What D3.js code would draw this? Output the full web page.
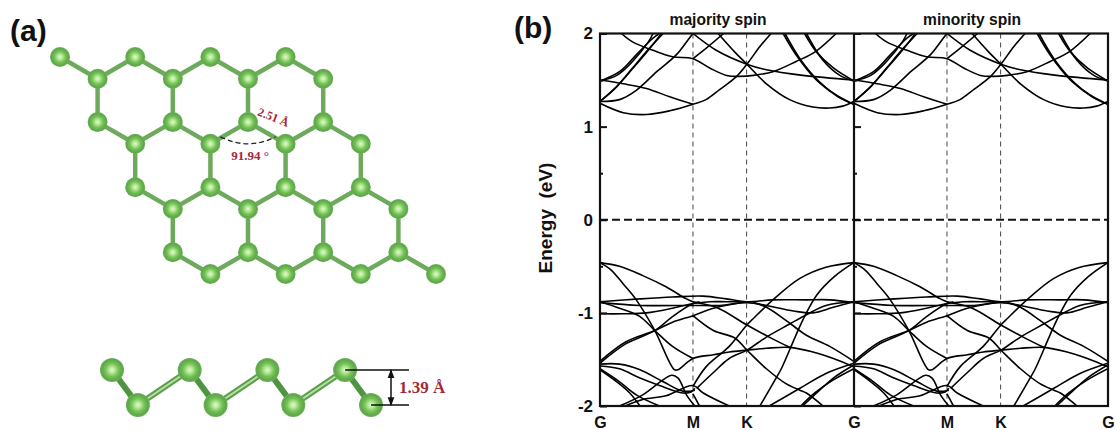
<!DOCTYPE html>
<meta charset="utf-8">
<style>
  body { margin: 0; background: #fff; }
  text { font-family: "Liberation Sans", Arial, sans-serif; font-weight: 700; fill: #111; }
  .red { font-family: "Liberation Serif", serif; fill: #a3283a; }
  .band { fill: none; stroke: #000; stroke-width: 1.6px; stroke-linejoin: round; }
  .axis line { stroke: #111; stroke-width: 2px; }
  .axis text { font-size: 16px; }
  .yaxis text { font-size: 17px; }
</style>
<body>
<script src="https://d3js.org/d3.v7.min.js"></script>
<script>
  // k path in units of the G-M distance
  var kTicks = [0, 1, 1.577, 2.732];
  var kLabels = ["G", "M", "K", "G"];
  var energyTicks = [-2, -1, 0, 1, 2];
  var energyMinor = [-1.5, -0.5, 0.5, 1.5];
  var panelTitles = ["majority spin", "minority spin"];

  // bands above the gap, [k, E]
  var conductionBands = [
    [[0,1.25],[.25,1.15],[.5,1.13],[.75,1.17],[1,1.24],[1.14,1.29],[1.29,1.4],[1.47,1.54],[1.58,1.67],[1.72,1.86],[1.84,2]],
    [[1.27,2],[1.45,1.8],[1.58,1.67],[1.79,1.46],[2.04,1.29],[2.29,1.21],[2.47,1.2],[2.61,1.22],[2.73,1.27]],
    [[1,2],[1.25,1.82],[1.58,1.67],[1.79,1.61],[2.18,1.55],[2.73,1.5]],
    [[.23,2],[.35,1.91],[.57,1.82],[.78,1.75],[1,1.73],[1.18,1.63],[1.36,1.55],[1.5,1.54],[1.65,1.55],[1.86,1.59],[2.11,1.7],[2.31,1.8],[2.54,2]],
    [[1,1.73],[1.14,1.84],[1.33,2]],
    [[0,1.5],[.25,1.46],[.5,1.41],[.75,1.32],[1,1.24]],
    [[0,1.49],[.18,1.55],[.35,1.7],[.52,1.91],[.57,2]],
    [[0,1.49],[.21,1.59],[.39,1.77],[.57,1.95],[.64,2]],
    [[0,1.27],[.18,1.43],[.35,1.63],[.53,1.84],[.68,2]],
    [[0,1.27],[.16,1.41],[.34,1.61],[.52,1.82],[.66,2]],
    [[0,1.27],[.21,1.29],[.39,1.39],[.61,1.59],[.82,1.77],[.96,1.95],[1,2]],
    [[1.97,2],[2.11,1.77],[2.33,1.5],[2.54,1.34],[2.73,1.24]],
    [[1.99,2],[2.15,1.73],[2.36,1.48],[2.56,1.32],[2.73,1.24]],
    [[2.2,2],[2.33,1.8],[2.51,1.63],[2.73,1.49]],
    [[2.22,2],[2.4,1.71],[2.58,1.55],[2.73,1.49]]
  ];

  // bands below the gap
  var valenceBands = [
    [[0,-.46],[.21,-.5],[.46,-.6],[.71,-.72],[.93,-.85],[1,-.88],[1.25,-.94],[1.58,-1.13],[1.82,-1.26],[2.04,-1.37]],
    [[0,-.46],[.12,-.54],[.25,-.69],[.39,-.86],[.59,-1.19],[.8,-1.61],[.84,-1.61],[1,-1.49],[1.22,-1.45],[1.39,-1.42],[1.58,-1.4],[1.79,-1.38],[2.04,-1.37],[2.29,-1.42],[2.51,-1.49],[2.73,-1.58]],
    [[0,-1.52],[.28,-1.31],[.59,-1.19],[.78,-1.1],[1,-1.03],[1.22,-.95],[1.58,-.88]],
    [[0,-1.54],[.28,-1.33],[.59,-1.19],[.78,-1.04],[1,-.9],[1.07,-.88]],
    [[0,-.88],[.21,-.95],[.43,-1.04],[.59,-1.19],[.78,-1.36],[1,-1.49]],
    [[0,-.88],[.43,-.85],[.78,-.83],[1.11,-.82],[1.36,-.85],[1.58,-.88],[1.86,-.86],[2.22,-.86],[2.47,-.86],[2.73,-.89]],
    [[0,-.89],[.43,-.92],[1,-.92],[1.29,-.92],[1.58,-.89],[1.79,-.92],[2.08,-.98],[2.29,-1],[2.51,-.94],[2.73,-.88]],
    [[0,-1.01],[.25,-1.01],[.5,-1],[.78,-.95],[1,-.9],[1.18,-.88],[1.36,-.88],[1.58,-.88]],
    [[1,-1.03],[1.22,-1.19],[1.45,-1.27],[1.58,-1.4],[1.79,-1.6],[2,-1.76],[2.15,-1.83],[2.22,-1.86],[2.4,-2]],
    [[1.65,-.89],[1.79,-.94],[2,-1.08],[2.22,-1.24],[2.47,-1.36],[2.73,-1.52]],
    [[1.72,-2],[1.9,-1.69],[1.95,-1.6],[2.18,-1.08],[2.33,-.81],[2.52,-.61],[2.73,-.46]],
    [[2.73,-.46],[2.43,-.51],[2.15,-.63],[1.86,-.86],[1.65,-1.06],[1.58,-1.13],[1.39,-1.36],[1.14,-1.58],[1,-1.79]],
    [[1.04,-1.81],[1.22,-1.64],[1.39,-1.49],[1.58,-1.4],[1.79,-1.26],[2.04,-1.12],[2.22,-1.02],[2.43,-.92],[2.73,-.88]],
    [[1.82,-2],[2.15,-1.81],[2.43,-1.65],[2.73,-1.54]],
    [[2.18,-2],[2.33,-1.86],[2.51,-1.7],[2.73,-1.56]],
    [[2.16,-2],[2.31,-1.86],[2.51,-1.72],[2.73,-1.6]],
    [[0,-1.55],[.21,-1.55],[.43,-1.61],[.68,-1.74],[.89,-1.84],[1.02,-1.83]],
    [[0,-1.57],[.21,-1.6],[.43,-1.7],[.64,-1.78],[.89,-1.86],[.98,-1.85],[1.02,-1.81]],
    [[0,-1.61],[.18,-1.74],[.32,-1.86],[.43,-2]],
    [[0,-1.6],[.21,-1.74],[.39,-1.88],[.64,-2]],
    [[.21,-2],[.46,-1.88],[.77,-1.67],[.84,-1.7],[.93,-1.88],[1.02,-2]],
    [[.27,-2],[.46,-1.93],[.71,-1.89],[1,-1.78],[1.11,-1.86],[1.39,-2]],
    [[1,-1.87],[1.07,-2]]
  ];

  // honeycomb, top view: [column, level]
  var topAtoms = [
    [0,0],[2,0],[4,0],[6,0],
    [1,1],[3,1],[5,1],[7,1],
    [1,3],[3,3],[5,3],[7,3],
    [2,4],[4,4],[6,4],[8,4],
    [2,6],[4,6],[6,6],[8,6],
    [3,7],[5,7],[7,7],[9,7],
    [3,9],[5,9],[7,9],[9,9],
    [4,10],[6,10],[8,10],[10,10]
  ];
  // side view, zigzag: [position, buckling in angstrom]
  var sideAtoms = [[0,1.39],[1,0],[3,1.39],[4,0],[6,1.39],[7,0],[9,1.39],[10,0]];

  var svg = d3.select("body").append("svg")
    .attr("width", 1117).attr("height", 430)
    .style("display", "block");

  var defs = svg.append("defs");
  var grad = defs.append("radialGradient").attr("id", "atom")
    .attr("cx", "50%").attr("cy", "50%").attr("r", "50%");
  grad.append("stop").attr("offset", "0%").attr("stop-color", "#e2f9d2");
  grad.append("stop").attr("offset", "25%").attr("stop-color", "#b4e896");
  grad.append("stop").attr("offset", "55%").attr("stop-color", "#76c257");
  grad.append("stop").attr("offset", "85%").attr("stop-color", "#5ea84a");
  grad.append("stop").attr("offset", "100%").attr("stop-color", "#6faf5e");
  defs.append("filter").attr("id", "soft")
    .append("feGaussianBlur").attr("stdDeviation", 0.6);
  defs.append("clipPath").attr("id", "frame").append("rect")
    .attr("x", 600).attr("y", 33.5).attr("width", 508).attr("height", 372.5);
  defs.append("marker").attr("id", "tip").attr("viewBox", "0 0 8 8")
    .attr("refX", 7).attr("refY", 4).attr("markerWidth", 6).attr("markerHeight", 6)
    .attr("orient", "auto-start-reverse")
    .append("path").attr("d", "M0,1L8,4L0,7Z").attr("fill", "#111");

  // (a) structure
  var a = svg.append("g");
  a.append("text").attr("x", 10).attr("y", 41).style("font-size", "30px").text("(a)");

  var col = d3.scaleLinear().domain([0, 10]).range([60, 436]);
  var lev = d3.scaleLinear().domain([0, 10]).range([57, 274]);

  var bonds = [];
  topAtoms.forEach(function (p, i) {
    topAtoms.slice(i + 1).forEach(function (q) {
      var dc = Math.abs(p[0] - q[0]), dl = Math.abs(p[1] - q[1]);
      if ((dc == 1 && dl == 1) || (dc == 0 && dl == 2)) bonds.push([p, q]);
    });
  });

  var mol = a.append("g").attr("filter", "url(#soft)");
  mol.selectAll(".b").data(bonds).enter().append("line")
    .attr("x1", d => col(d[0][0])).attr("y1", d => lev(d[0][1]))
    .attr("x2", d => col(d[1][0])).attr("y2", d => lev(d[1][1]))
    .attr("stroke", "#6eaa5c").attr("stroke-width", 4.5);
  mol.selectAll(".a").data(topAtoms).enter().append("circle")
    .attr("cx", d => col(d[0])).attr("cy", d => lev(d[1])).attr("r", 10)
    .attr("fill", "url(#atom)");

  // angle arc between the two second neighbours
  var ax0 = col(4) + 10, ax1 = col(6) - 10, ay = lev(4) - 7;
  a.append("path")
    .attr("d", "M" + ax0 + "," + ay + "Q" + (ax0 + ax1) / 2 + "," + (ay + 14) + " " + ax1 + "," + ay)
    .attr("fill", "none").attr("stroke", "#222").attr("stroke-width", 1.3)
    .attr("stroke-dasharray", "5 3");
  a.append("text").attr("class", "red").attr("transform", "translate(272,121) rotate(22)")
    .attr("text-anchor", "middle").style("font-size", "12px").text("2.51 Å");
  a.append("text").attr("class", "red").attr("x", 250).attr("y", 160)
    .attr("text-anchor", "middle").style("font-size", "13px").text("91.94 °");

  // side view
  var sx = d3.scaleLinear().domain([0, 10]).range([112, 371]);
  var sy = d3.scaleLinear().domain([0, 1.39]).range([405, 370]);
  var side = a.append("g").attr("filter", "url(#soft)");
  d3.pairs(sideAtoms).forEach(function (d, i) {
    var dark = i % 2 == 0;
    side.append("line")
      .attr("x1", sx(d[0][0])).attr("y1", sy(d[0][1]))
      .attr("x2", sx(d[1][0])).attr("y2", sy(d[1][1]))
      .attr("stroke", dark ? "#4f9440" : "#5d9f4c").attr("stroke-width", 6);
    if (!dark) {
      side.append("line")
        .attr("x1", sx(d[0][0])).attr("y1", sy(d[0][1]))
        .attr("x2", sx(d[1][0])).attr("y2", sy(d[1][1]))
        .attr("stroke", "#b9dfa8").attr("stroke-width", 2);
    }
  });
  side.selectAll("circle").data(sideAtoms).enter().append("circle")
    .attr("cx", d => sx(d[0])).attr("cy", d => sy(d[1])).attr("r", 12)
    .attr("fill", "url(#atom)");

  // buckling height marker
  a.append("line").attr("x1", sx(9)).attr("x2", 409).attr("y1", sy(1.39)).attr("y2", sy(1.39))
    .attr("stroke", "#111").attr("stroke-width", 1.5);
  a.append("line").attr("x1", sx(10)).attr("x2", 409).attr("y1", sy(0)).attr("y2", sy(0))
    .attr("stroke", "#111").attr("stroke-width", 1.5);
  a.append("line").attr("x1", 391).attr("x2", 391).attr("y1", sy(1.39)).attr("y2", sy(0))
    .attr("stroke", "#111").attr("stroke-width", 1.5)
    .attr("marker-start", "url(#tip)").attr("marker-end", "url(#tip)");
  a.append("text").attr("class", "red").attr("x", 399).attr("y", 393)
    .style("font-size", "17px").text("1.39 Å");

  // (b) band structure
  svg.append("text").attr("x", 514).attr("y", 38).style("font-size", "30px").text("(b)");

  var y = d3.scaleLinear().domain([-2, 2]).range([406, 33.5]);
  var xLeft = d3.scaleLinear().domain([0, 2.732]).range([600, 854]);
  var xRight = d3.scaleLinear().domain([0, 2.732]).range([854, 1108]);
  var panels = [xLeft, xRight];

  var plot = svg.append("g").attr("clip-path", "url(#frame)");

  panels.forEach(function (x, i) {
    // high symmetry lines
    plot.selectAll(".kline" + i).data([kTicks[1], kTicks[2]]).enter().append("line")
      .attr("x1", d => x(d)).attr("x2", d => x(d))
      .attr("y1", y(2)).attr("y2", y(-2))
      .attr("stroke", "#444").attr("stroke-width", 1)
      .attr("stroke-dasharray", "5 4");

    var line = d3.line()
      .curve(d3.curveCatmullRom.alpha(0.5))
      .x(d => x(d[0]))
      .y(d => y(d[1]));

    plot.selectAll(".band" + i).data(conductionBands.concat(valenceBands)).enter().append("path")
      .attr("class", "band")
      .attr("d", line);

    svg.append("text").attr("x", x(1.27)).attr("y", 25)
      .attr("text-anchor", "middle").style("font-size", "15.6px").text(panelTitles[i]);

    // bottom axis holds the G M K labels
    var ax = d3.axisBottom(x).tickValues(kTicks).tickSize(0).tickPadding(11)
      .tickFormat((d, j) => kLabels[j]);
    var gx = svg.append("g").attr("class", "axis")
      .attr("transform", "translate(0," + y(-2) + ")").call(ax);
    gx.select(".domain").remove();
    if (i == 1) gx.selectAll(".tick").filter(d => d == 0).remove();
  });

  // fermi level
  plot.append("line").attr("x1", 600).attr("x2", 1108)
    .attr("y1", y(0)).attr("y2", y(0))
    .attr("stroke", "#111").attr("stroke-width", 1.8)
    .attr("stroke-dasharray", "8 4");

  // frame and y axes
  svg.append("rect").attr("x", 600).attr("y", y(2)).attr("width", 508).attr("height", y(-2) - y(2))
    .attr("fill", "none").attr("stroke", "#111").attr("stroke-width", 2.2);
  svg.append("line").attr("x1", 854).attr("x2", 854).attr("y1", y(2)).attr("y2", y(-2))
    .attr("stroke", "#111").attr("stroke-width", 2.2);

  panels.forEach(function (x, i) {
    var ay = d3.axisLeft(y).tickValues(energyTicks).tickSize(-7).tickPadding(7)
      .tickFormat(d => d);
    var gy = svg.append("g").attr("class", "axis yaxis")
      .attr("transform", "translate(" + x(0) + ",0)").call(ay);
    gy.select(".domain").remove();
    if (i == 1) gy.selectAll("text").remove();
    var ym = d3.axisLeft(y).tickValues(energyMinor).tickSize(-3).tickFormat("");
    var gm = svg.append("g").attr("class", "axis")
      .attr("transform", "translate(" + x(0) + ",0)").call(ym);
    gm.select(".domain").remove();
  });

  svg.append("text").attr("transform", "translate(552,218) rotate(-90)")
    .attr("text-anchor", "middle").style("font-size", "19px").attr("xml:space", "preserve")
    .text("Energy  (eV)");
</script>
</body>
